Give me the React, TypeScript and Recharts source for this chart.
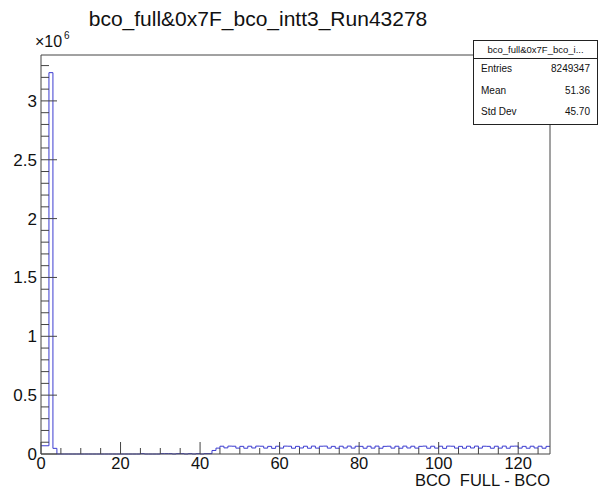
import React from 'react';
import { LineChart, Line, XAxis, YAxis } from 'recharts';

// bin contents, one per unit bin from 0 to 127
const binCounts = [
  70000, 70000, 3240000, 48000, 0, 0, 0, 0, 0, 0, 0, 0, 0, 0, 0, 0,
  0, 0, 0, 0, 0, 0, 0, 0, 0, 3000, 0, 0, 0, 0, 3000, 3000,
  3000, 0, 3000, 3000, 0, 3000, 0, 3000, 0, 3000, 3000, 30000, 50000, 66000, 52000, 67000,
  66000, 50000, 65000, 49000, 66000, 51000, 67000, 66000, 50000, 65000, 48000, 66000, 50000, 67000, 66000, 49000,
  65000, 51000, 66000, 49000, 67000, 50000, 66000, 67000, 50000, 65000, 49000, 66000, 51000, 67000, 50000, 66000,
  65000, 49000, 66000, 50000, 67000, 49000, 65000, 66000, 50000, 66000, 49000, 67000, 51000, 66000, 50000, 65000,
  67000, 49000, 66000, 50000, 66000, 48000, 67000, 66000, 50000, 65000, 49000, 66000, 51000, 67000, 50000, 66000,
  65000, 49000, 66000, 50000, 67000, 49000, 66000, 67000, 50000, 65000, 49000, 66000, 51000, 66000, 49000, 65000,
];

const xMajorTicks = [0, 20, 40, 60, 80, 100, 120];
const yMajorTicks = [0, 500000, 1000000, 1500000, 2000000, 2500000, 3000000];
const statsRows = [
  ['Entries', '8249347'],
  ['Mean', '51.36'],
  ['Std Dev', '45.70'],
];

const title = 'bco_full&0x7F_bco_intt3_Run43278';
const statsTitle = 'bco_full&0x7F_bco_i...';
const xTitle = 'BCO\u00a0 FULL - BCO';

const X_MAX = 128;
const Y_MAX = 3390000;

const xTicks = Array.from({ length: 26 }, (_, i) => i * 5);
const yTicks = Array.from({ length: 34 }, (_, i) => i * 100000);

const data = binCounts
  .map((c, i) => ({ x: i, y: c }))
  .concat([{ x: X_MAX, y: binCounts[binCounts.length - 1] }]);

const font = '"Liberation Sans", Arial, sans-serif';
const lineColor = '#3c3cd0';
const axisColor = '#444';

const XTick = (props: any) => {
  const { x, y, payload } = props;
  const major = xMajorTicks.includes(payload.value);
  return (
    <g>
      <line x1={x} x2={x} y1={y} y2={y - (major ? 12 : 6)} stroke={axisColor} />
      {major && (
        <text x={x} y={y + 14.5} textAnchor="middle" fontSize={16.5} fontFamily={font} fill="#111">
          {payload.value}
        </text>
      )}
    </g>
  );
};

const YTick = (props: any) => {
  const { x, y, payload } = props;
  const major = yMajorTicks.includes(payload.value);
  return (
    <g>
      <line x1={x} x2={x + (major ? 16 : 8)} y1={y} y2={y} stroke={axisColor} />
      {major && (
        <text x={x - 4} y={y + 6} textAnchor="end" fontSize={17} fontFamily={font} fill="#111">
          {payload.value / 1e6}
        </text>
      )}
    </g>
  );
};

export default function App() {
  return (
    <div style={{ position: 'absolute', left: 0, top: 0, width: 600, height: 488, background: '#fff' }}>
      <LineChart width={600} height={488} data={data} margin={{ top: 0, right: 0, bottom: 0, left: 0 }}>
        <XAxis
          dataKey="x"
          type="number"
          domain={[0, X_MAX]}
          ticks={xTicks}
          interval={0}
          tickSize={0}
          tickMargin={0}
          height={34}
          tick={<XTick />}
          axisLine={{ stroke: axisColor }}
        />
        <XAxis
          xAxisId="top"
          orientation="top"
          dataKey="x"
          type="number"
          domain={[0, X_MAX]}
          height={55}
          tick={false}
          tickLine={false}
          axisLine={{ stroke: axisColor }}
        />
        <YAxis
          type="number"
          domain={[0, Y_MAX]}
          ticks={yTicks}
          interval={0}
          tickSize={0}
          tickMargin={0}
          width={41}
          tick={<YTick />}
          axisLine={{ stroke: axisColor }}
        />
        <YAxis
          yAxisId="right"
          orientation="right"
          type="number"
          domain={[0, Y_MAX]}
          width={50}
          tick={false}
          tickLine={false}
          axisLine={{ stroke: axisColor }}
        />
        <Line
          type="stepAfter"
          dataKey="y"
          stroke={lineColor}
          strokeWidth={1}
          dot={false}
          activeDot={false}
          isAnimationActive={false}
        />
      </LineChart>
      <svg width={600} height={488} style={{ position: 'absolute', left: 0, top: 0, pointerEvents: 'none' }}>
        <text x={258} y={26} textAnchor="middle" fontSize={21} fontFamily={font} fill="#111">
          {title}
        </text>
        <text x={35} y={47} fontSize={16} fontFamily={font} fill="#111">
          ×10
        </text>
        <text x={64} y={39} fontSize={10} fontFamily={font} fill="#111">
          6
        </text>
        <text x={550} y={486} textAnchor="end" fontSize={16.5} fontFamily={font} fill="#111">
          {xTitle}
        </text>
        <rect x={473.5} y={40.5} width={124} height={84} fill="#fff" stroke="#222" />
        <line x1={473.5} x2={597.5} y1={58.5} y2={58.5} stroke="#222" />
        <text x={535.5} y={52.5} textAnchor="middle" fontSize={9.5} fontFamily={font} fill="#111">
          {statsTitle}
        </text>
        {statsRows.map((r, i) => (
          <g key={r[0]}>
            <text x={481} y={72 + i * 21.5} fontSize={10} fontFamily={font} fill="#111">
              {r[0]}
            </text>
            <text x={590} y={72 + i * 21.5} textAnchor="end" fontSize={10} fontFamily={font} fill="#111">
              {r[1]}
            </text>
          </g>
        ))}
      </svg>
    </div>
  );
}
